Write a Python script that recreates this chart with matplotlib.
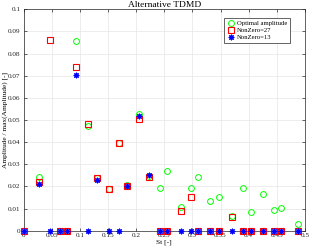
import numpy as np
import matplotlib
matplotlib.use("Agg")
from matplotlib import pyplot as plt

plt.rcParams['font.family'] = ['Liberation Serif', 'DejaVu Serif']

# Strouhal numbers of the modes
st = [0.0, 0.027, 0.047, 0.065, 0.077, 0.093, 0.114, 0.131, 0.151, 0.169,
      0.183, 0.205, 0.2235, 0.243, 0.255, 0.280, 0.298, 0.310, 0.331, 0.348,
      0.371, 0.390, 0.405, 0.425, 0.445, 0.457, 0.488]

# normalised amplitudes (nan = above 0.1, off scale)
optimal = [np.nan, 0.0244, np.nan, 0.0, 0.0, 0.0858, 0.0475, 0.0238, 0.0187, 0.0395,
           0.0205, 0.0527, 0.0248, 0.0194, 0.0271, 0.0106, 0.0191, 0.0244, 0.0133, 0.0154,
           0.0066, 0.0191, 0.0084, 0.0164, 0.0093, 0.0101, 0.0029]
nz27 = [0.0, 0.0220, 0.0861, 0.0, 0.0, 0.0740, 0.0480, 0.0236, 0.0187, 0.0395,
        0.0202, 0.0506, 0.0241, 0.0, 0.0, 0.0090, 0.0154, 0.0, 0.0, 0.0,
        0.0063, 0.0, 0.0, 0.0, 0.0, 0.0, 0.0]
nz13 = [0.0, 0.0210, 0.0, 0.0, 0.0, 0.0701, 0.0, 0.0230, 0.0, 0.0,
        0.0202, 0.0516, 0.0252, 0.0, 0.0, 0.0, 0.0, 0.0, 0.0, 0.0,
        0.0, 0.0, 0.0, 0.0, 0.0, 0.0, 0.0]

fig = plt.figure(figsize=(3.11, 2.52), dpi=100)
ax = fig.add_axes([0.0756, 0.0845, 0.905, 0.8786])

ax.plot(st, optimal, 'o', color='#00ff00', markerfacecolor='none', markersize=4.2,
        markeredgewidth=0.7, label='Optimal amplitude', clip_on=False, zorder=3)
ax.plot(st, nz27, 's', color='#ff0000', markeredgecolor='#ff0000', markerfacecolor='none',
        markersize=3.8, markeredgewidth=0.8, label='NonZero=27', clip_on=False, zorder=4)
ax.plot(st, nz13, marker=(8, 2, 0), linestyle='none', color='#0000ff', markersize=4.0,
        markeredgewidth=0.8, label='NonZero=13', clip_on=False, zorder=5)

ax.set_xlim(0, 0.5)
ax.set_ylim(0, 0.1)
xt = np.arange(0, 0.51, 0.05)
yt = np.arange(0, 0.101, 0.01)
ax.set_xticks(xt)
ax.set_xticklabels(['0', '0.05', '0.1', '0.15', '0.2', '0.25', '0.3', '0.35', '0.4', '0.45', '0.5'])
ax.set_yticks(yt)
ax.set_yticklabels(['0', '0.01', '0.02', '0.03', '0.04', '0.05', '0.06', '0.07', '0.08', '0.09', '0.1'])
ax.tick_params(direction='in', length=2, width=0.5, labelsize=5.2, colors='#262626',
               top=True, right=True, pad=2)
ax.grid(True, color='#e6e6e6', linewidth=0.5)
ax.set_axisbelow(True)
for s in ax.spines.values():
    s.set_linewidth(0.5)
    s.set_color('#262626')

ax.set_title('Alternative TDMD', fontsize=6.8, pad=1.5)
ax.set_xlabel('St [-]', fontsize=5.4, labelpad=1)
ax.set_ylabel('Amplitude / max(Amplitude) [-]', fontsize=5.3, labelpad=0.5)

leg = ax.legend(loc='upper right', fontsize=4.8, fancybox=False, framealpha=1,
                edgecolor='#262626', borderpad=0.4, handletextpad=0.3,
                handlelength=1.2, labelspacing=0.2, bbox_to_anchor=(0.957, 0.977))
leg.get_frame().set_linewidth(0.5)

fig.savefig('out.png', dpi=100)
